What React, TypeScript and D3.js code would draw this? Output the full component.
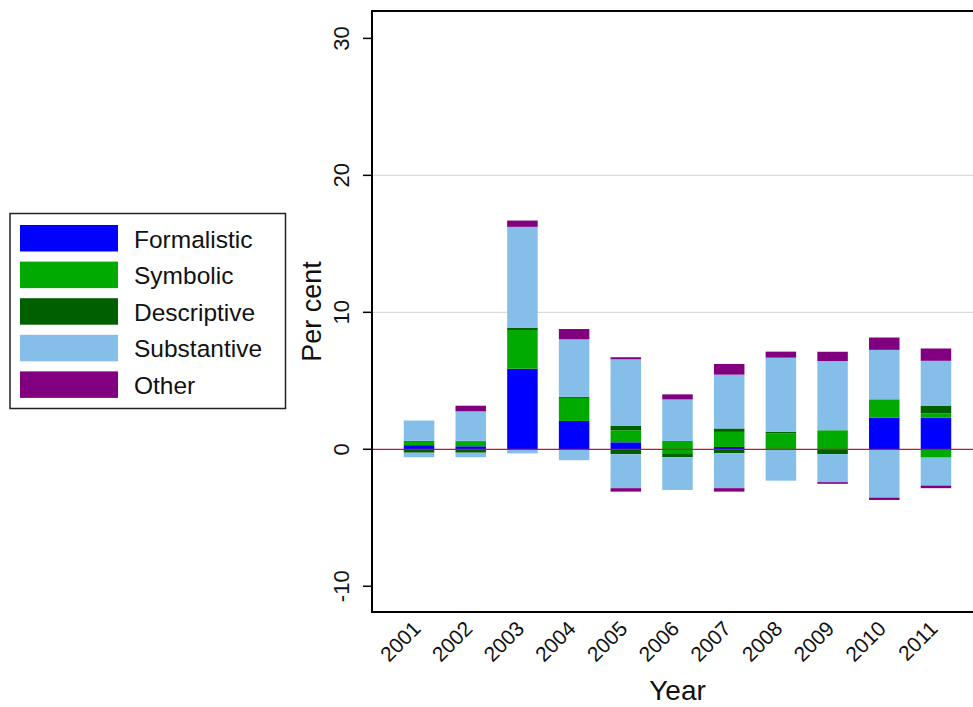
import React from "react";
import * as d3 from "d3";

const years = ["2001","2002","2003","2004","2005","2006","2007","2008","2009","2010","2011"];
const seriesNames = ["Formalistic","Symbolic","Descriptive","Substantive","Other"];
const seriesColors = ["#0000ff","#00aa00","#006000","#85bfe9","#800080"];

// positive parts
const formalisticPos = [0.3, 0.22, 5.88, 2.07, 0.51, 0, 0.17, 0, 0, 2.3, 2.31];
const symbolicPos = [0.25, 0.37, 2.83, 1.68, 0.88, 0.61, 1.1, 1.15, 1.39, 1.35, 0.32];
const descriptivePos = [0.07, 0.03, 0.17, 0.08, 0.34, 0, 0.25, 0.12, 0, 0, 0.56];
const substantivePos = [1.48, 2.15, 7.36, 4.2, 4.84, 3.03, 3.93, 5.42, 5.05, 3.61, 3.27];
const otherPos = [0, 0.41, 0.46, 0.75, 0.15, 0.37, 0.78, 0.44, 0.68, 0.9, 0.9];

// negative parts
const formalisticNeg = [0, 0, 0, 0, 0, 0, 0, 0, 0, 0, 0];
const symbolicNeg = [0, 0, 0, 0, 0, -0.29, 0, 0, -0.05, 0, -0.61];
const descriptiveNeg = [-0.25, -0.25, 0, 0, -0.36, -0.29, -0.29, 0, -0.31, 0, 0];
const substantiveNeg = [-0.33, -0.33, -0.3, -0.8, -2.48, -2.39, -2.55, -2.29, -2.04, -3.53, -2.04];
const otherNeg = [0, 0, 0, 0, -0.25, 0, -0.25, 0, -0.12, -0.17, -0.19];

const yTicks = [-10, 0, 10, 20, 30];
const gridTicks = [10, 20];

const posSeries = [formalisticPos, symbolicPos, descriptivePos, substantivePos, otherPos];
const negSeries = [formalisticNeg, symbolicNeg, descriptiveNeg, substantiveNeg, otherNeg];

const W = 973, H = 707;
const plotLeft = 372, plotRight = 983, plotTop = 11, plotBottom = 612;
const FONT = "Arial, 'Liberation Sans', Helvetica, sans-serif";

export default function App() {
  const x = d3.scalePoint<string>().domain(years).range([plotLeft, plotRight]).padding(0.91);
  const barW = x.step() * 0.59;
  const y = d3.scaleLinear().domain([-11.88, 32]).range([plotBottom, plotTop]);

  const rects: React.ReactNode[] = [];
  years.forEach((yr, i) => {
    let acc = 0;
    posSeries.forEach((s, k) => {
      const v = s[i];
      if (v > 0) {
        rects.push(
          <rect key={`p${i}-${k}`} x={x(yr)! - barW / 2} y={y(acc + v)} width={barW}
            height={y(acc) - y(acc + v)} fill={seriesColors[k]} />
        );
      }
      acc += v;
    });
    let nacc = 0;
    negSeries.forEach((s, k) => {
      const v = s[i];
      if (v < 0) {
        rects.push(
          <rect key={`n${i}-${k}`} x={x(yr)! - barW / 2} y={y(nacc)} width={barW}
            height={y(nacc + v) - y(nacc)} fill={seriesColors[k]} />
        );
      }
      nacc += v;
    });
  });

  return (
    <svg width={W} height={H} style={{ position: "absolute", left: 0, top: 0, background: "#fff" }}
      fontFamily={FONT}>
      <rect x={0} y={0} width={W} height={H} fill="#fff" />
      {gridTicks.map((t) => (
        <line key={`g${t}`} x1={plotLeft} x2={plotRight} y1={y(t)} y2={y(t)} stroke="#dcdcdc" strokeWidth={1.2} />
      ))}
      {rects}
      <line x1={plotLeft} x2={plotRight} y1={y(0)} y2={y(0)} stroke="#c8143c" strokeWidth={1.2} />
      {/* frame */}
      <rect x={plotLeft} y={plotTop} width={plotRight - plotLeft} height={plotBottom - plotTop}
        fill="none" stroke="#000" strokeWidth={2} />
      {/* y axis ticks */}
      {yTicks.map((t) => (
        <g key={`yt${t}`}>
          <line x1={plotLeft - 9} x2={plotLeft} y1={y(t)} y2={y(t)} stroke="#000" strokeWidth={1.5} />
          <text transform={`translate(349,${y(t)}) rotate(-90)`} textAnchor="middle" fontSize={22} fill="#111">
            {t}
          </text>
        </g>
      ))}
      <text transform={`translate(321,${(plotTop + plotBottom) / 2}) rotate(-90)`} textAnchor="middle"
        fontSize={27} fill="#111">Per cent</text>
      {/* x labels */}
      {years.map((yr) => (
        <text key={`xl${yr}`} transform={`translate(${x(yr)! + 3},630) rotate(-45)`} textAnchor="end"
          fontSize={21} fill="#111">{yr}</text>
      ))}
      <text x={(plotLeft + plotRight) / 2} y={700} textAnchor="middle" fontSize={28} fill="#111">Year</text>
      {/* legend */}
      <g>
        <rect x={10} y={213.5} width={275.5} height={195} fill="#fff" stroke="#222" strokeWidth={1.5} />
        {seriesNames.map((name, k) => (
          <g key={`lg${k}`}>
            <rect x={20} y={225 + k * 36.6} width={98} height={26.5} fill={seriesColors[k]} />
            <text x={134} y={247.5 + k * 36.6} fontSize={24.5} fill="#111">{name}</text>
          </g>
        ))}
      </g>
    </svg>
  );
}
